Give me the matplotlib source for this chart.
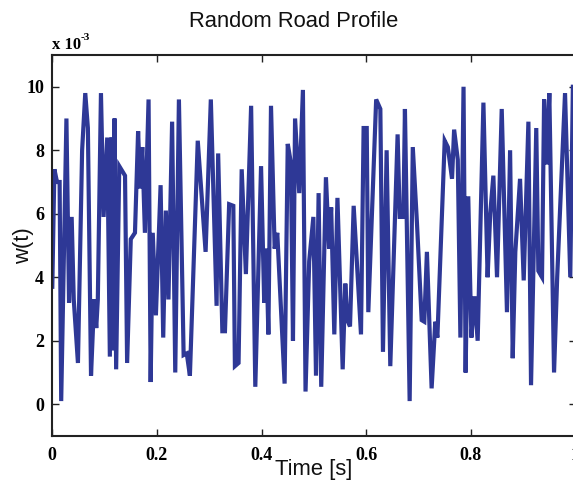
import matplotlib
matplotlib.use("Agg")
import matplotlib.pyplot as plt
from matplotlib.ticker import FuncFormatter, FixedLocator
from matplotlib.font_manager import FontProperties
import numpy as np

# Road profile samples: time [s] and displacement w(t) in units of 1e-3
time_s = [
    0.000, 0.004, 0.009, 0.014, 0.017, 0.027, 0.032, 0.037, 0.041, 0.049,
    0.057, 0.063, 0.068, 0.074, 0.080, 0.084, 0.087, 0.093, 0.098, 0.105,
    0.110, 0.113, 0.115, 0.119, 0.122, 0.128, 0.139, 0.143, 0.150, 0.158,
    0.164, 0.168, 0.172, 0.177, 0.184, 0.188, 0.192, 0.198, 0.207, 0.212,
    0.217, 0.222, 0.229, 0.235, 0.242, 0.251, 0.257, 0.263, 0.278, 0.293,
    0.303, 0.314, 0.317, 0.325, 0.330, 0.338, 0.346, 0.349, 0.356, 0.362,
    0.370, 0.380, 0.388, 0.399, 0.405, 0.409, 0.413, 0.418, 0.425, 0.430,
    0.444, 0.450, 0.456, 0.460, 0.464, 0.472, 0.479, 0.484, 0.491, 0.499,
    0.504, 0.509, 0.514, 0.523, 0.529, 0.533, 0.539, 0.545, 0.555, 0.560,
    0.564, 0.569, 0.576, 0.590, 0.595, 0.601, 0.604, 0.619, 0.627, 0.632,
    0.639, 0.646, 0.660, 0.664, 0.671, 0.674, 0.683, 0.689, 0.697, 0.706,
    0.711, 0.716, 0.725, 0.732, 0.736, 0.750, 0.756, 0.764, 0.768, 0.775,
    0.780, 0.786, 0.790, 0.795, 0.801, 0.807, 0.813, 0.824, 0.832, 0.837,
    0.843, 0.850, 0.859, 0.869, 0.875, 0.880, 0.885, 0.894, 0.901, 0.910,
    0.915, 0.925, 0.929, 0.936, 0.940, 0.945, 0.950, 0.959, 0.965, 0.980,
    0.990, 0.995,
]
w_e3 = [
    3.7, 7.4, 7.0, 7.0, 0.1, 9.0, 3.2, 5.9, 3.3, 1.3,
    8.0, 9.8, 8.7, 0.9, 3.3, 2.4, 3.3, 9.8, 5.9, 8.4,
    1.5, 8.4, 1.7, 9.0, 1.1, 7.5, 7.2, 1.3, 5.2, 5.4,
    8.6, 6.8, 8.1, 5.4, 9.6, 0.7, 5.4, 2.8, 6.9, 2.1,
    6.1, 3.3, 8.9, 1.0, 9.6, 1.55, 1.6, 0.9, 8.3, 4.8,
    9.6, 3.1, 7.9, 2.3, 2.3, 6.3, 6.25, 1.2, 1.3, 7.4,
    4.1, 9.4, 0.55, 7.5, 3.2, 4.9, 2.2, 9.4, 4.9, 5.4,
    0.65, 8.2, 7.6, 2.0, 9.0, 6.65, 9.9, 0.4, 4.5, 5.9,
    0.9, 6.65, 0.55, 7.15, 4.9, 6.2, 2.2, 6.5, 1.1, 3.8,
    2.65, 2.45, 6.25, 2.2, 8.7, 8.7, 2.9, 9.6, 9.3, 1.65,
    8.0, 1.2, 8.5, 5.9, 5.9, 9.3, 0.1, 8.1, 5.7, 2.65,
    2.6, 4.8, 0.5, 2.6, 2.1, 8.3, 8.1, 7.1, 8.65, 7.7,
    2.1, 10.0, 1.0, 6.55, 2.1, 3.4, 2.0, 9.5, 4.0, 6.0,
    7.2, 4.0, 9.3, 2.9, 8.0, 1.45, 4.8, 7.1, 3.9, 8.9,
    0.6, 8.7, 4.2, 4.0, 9.6, 7.55, 9.8, 1.0, 4.0, 9.8,
    4.0, 10.0,
]

x_ticks = [0, 0.2, 0.4, 0.6, 0.8, 1.0]
x_tick_labels = ["0", "0.2", "0.4", "0.6", "0.8", "1"]
y_ticks_e3 = [0, 2, 4, 6, 8, 10]

t = np.array(time_s)
w = np.array(w_e3) * 1e-3

W, H, DPI = 573, 484, 100
fig = plt.figure(figsize=(W / DPI, H / DPI), dpi=DPI)
fig.patch.set_facecolor("white")

# axes box: left spine at x=52, right spine just past the figure edge
left, right, top, bottom = 52.3, 575.5, 55.0, 436.0
ax = fig.add_axes([left / W, 1 - bottom / H, (right - left) / W, (bottom - top) / H])

ax.plot(t, w, color="#2e3896", lw=3.0, solid_joinstyle="miter")

ax.set_xlim(0, 1.0)
ax.set_ylim(-1e-3, 11e-3)

serif_bold = dict(family="Liberation Serif", weight="bold", size=13)
ax.xaxis.set_major_locator(FixedLocator(x_ticks))
ax.set_xticklabels(x_tick_labels, fontdict=serif_bold)
ax.yaxis.set_major_locator(FixedLocator([v * 1e-3 for v in y_ticks_e3]))
ax.yaxis.set_major_formatter(FuncFormatter(lambda v, p: f"{v * 1e3:.0f}"))
for lab in ax.get_yticklabels():
    lab.set_fontproperties(FontProperties(**serif_bold))

ax.tick_params(direction="in", length=5, width=1.0, colors="#222222",
               top=True, right=True, pad=6)
ax.tick_params(axis="x", pad=8)
for lab in ax.get_xticklabels() + ax.get_yticklabels():
    lab.set_color("black")
for s in ax.spines.values():
    s.set_linewidth(1.5)
    s.set_color("#222222")

label_font = dict(family="Liberation Sans", size=15.8, color="#111111")
fig.text(294 / W, 1 - 27 / H, "Random Road Profile", ha="center",
         va="baseline", **label_font)
ax.set_xlabel("Time [s]", labelpad=-4, **label_font)
ax.set_ylabel("w(t)", **label_font)
ax.yaxis.set_label_coords((34 - left) / (right - left), 0.5)

# exponent label above the y axis
fig.text(52 / W, 1 - 49 / H, "x 10", family="Liberation Serif", weight="bold",
         size=12, ha="left", va="baseline")
fig.text(81 / W, 1 - 40 / H, "-3", family="Liberation Serif", weight="bold",
         size=8, ha="left", va="baseline")

fig.savefig("out.png", dpi=DPI)
